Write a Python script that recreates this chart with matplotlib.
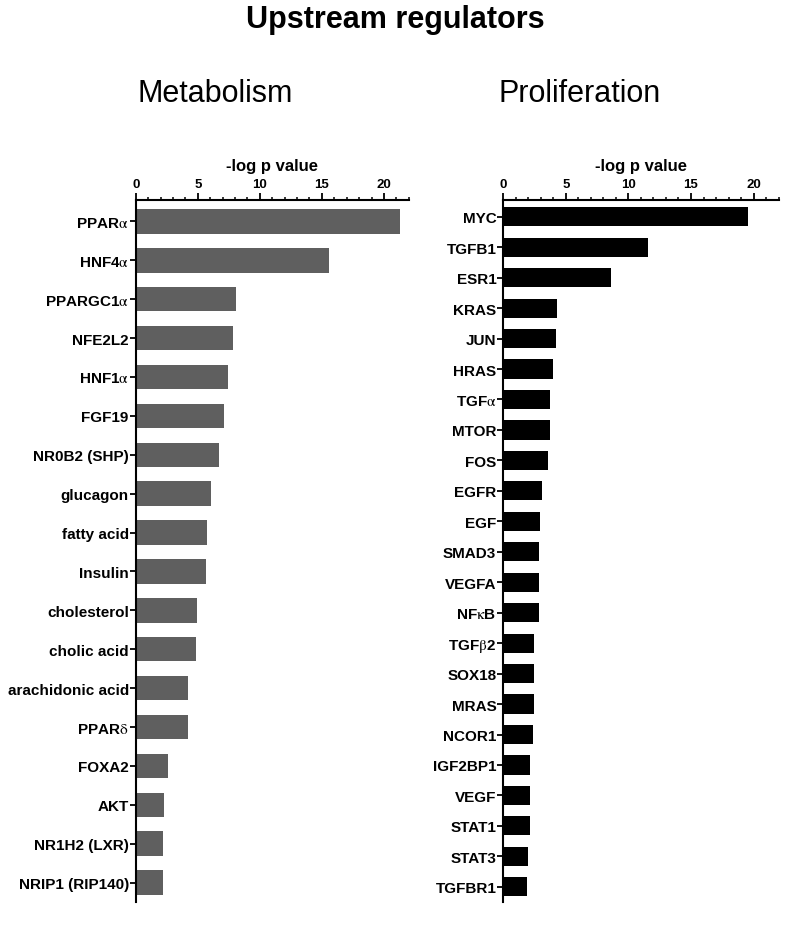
import matplotlib.pyplot as plt
from matplotlib.ticker import MultipleLocator

plt.rcParams['font.family'] = ['Liberation Sans', 'DejaVu Sans']
plt.rcParams['mathtext.fontset'] = 'stix'

# metabolism regulators (-log p value)
metab_names = ['PPAR$\\mathrm{\\alpha}$', 'HNF4$\\mathrm{\\alpha}$', 'PPARGC1$\\mathrm{\\alpha}$',
               'NFE2L2', 'HNF1$\\mathrm{\\alpha}$', 'FGF19', 'NR0B2 (SHP)', 'glucagon',
               'fatty acid', 'Insulin', 'cholesterol', 'cholic acid', 'arachidonic acid',
               'PPAR$\\mathrm{\\delta}$', 'FOXA2', 'AKT', 'NR1H2 (LXR)', 'NRIP1 (RIP140)']
metab_vals = [21.3, 15.6, 8.1, 7.8, 7.45, 7.13, 6.7, 6.07, 5.78, 5.65, 4.95,
              4.85, 4.23, 4.23, 2.58, 2.26, 2.21, 2.18]

# proliferation regulators (-log p value)
prolif_names = ['MYC', 'TGFB1', 'ESR1', 'KRAS', 'JUN', 'HRAS', 'TGF$\\mathrm{\\alpha}$', 'MTOR',
                'FOS', 'EGFR', 'EGF', 'SMAD3', 'VEGFA', 'NF$\\mathrm{\\kappa}$B',
                'TGF$\\mathrm{\\beta}$2', 'SOX18', 'MRAS', 'NCOR1', 'IGF2BP1', 'VEGF',
                'STAT1', 'STAT3', 'TGFBR1']
prolif_vals = [19.57, 11.58, 8.6, 4.31, 4.23, 3.95, 3.75, 3.73, 3.57, 3.09, 2.9,
               2.88, 2.88, 2.86, 2.45, 2.42, 2.42, 2.37, 2.16, 2.13, 2.1, 1.95, 1.9]

fig = plt.figure(figsize=(7.9, 9.28), dpi=100)
ax1 = fig.add_axes([0.1718, 0.0269, 0.3456, 0.7565])
ax2 = fig.add_axes([0.637, 0.0269, 0.3486, 0.7565])


def draw(ax, names, vals, color):
    pos = range(len(names))
    ax.barh(pos, vals, height=0.63, color=color)
    ax.set_yticks(list(pos))
    ax.set_yticklabels(names, fontsize=11, fontweight='bold')
    ax.set_ylim(len(names) - 0.5, -0.55)
    ax.set_xlim(0, 22)
    ax.xaxis.set_major_locator(MultipleLocator(5))
    ax.xaxis.set_minor_locator(MultipleLocator(1))
    ax.xaxis.tick_top()
    ax.xaxis.set_label_position('top')
    ax.set_xlabel('-log p value', fontsize=12, fontweight='bold', labelpad=6)
    for lab in ax.get_xticklabels():
        lab.set_fontweight('bold')
        lab.set_fontsize(9.5)
    ax.spines['right'].set_visible(False)
    ax.spines['bottom'].set_visible(False)
    ax.spines['top'].set_linewidth(1.5)
    ax.spines['left'].set_linewidth(1.5)
    ax.tick_params(axis='x', which='major', length=5, width=1.3, pad=2)
    ax.tick_params(axis='x', which='minor', length=2.5, width=1.1)
    ax.tick_params(axis='y', length=4, width=1.3, pad=1)


draw(ax1, metab_names, metab_vals, '#5f5f5f')
draw(ax2, prolif_names, prolif_vals, '#000000')

fig.text(0.5, 0.970, 'Upstream regulators', ha='center', va='baseline',
         fontsize=22, fontweight='bold')
fig.text(0.273, 0.890, 'Metabolism', ha='center', va='baseline', fontsize=22)
fig.text(0.734, 0.890, 'Proliferation', ha='center', va='baseline', fontsize=22)

fig.savefig('out.png', dpi=100)
